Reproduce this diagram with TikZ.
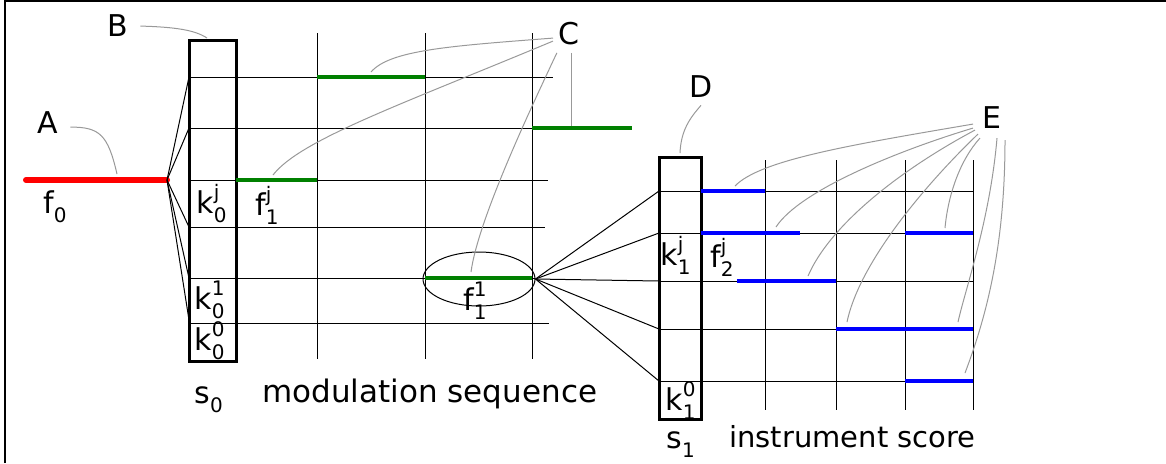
\documentclass[tikz,border=0pt]{standalone}
\usepackage{fontspec}
\setmainfont{DejaVu Sans}
\usetikzlibrary{shapes.geometric}
\newcommand\idx[3]{#1\rlap{\raisebox{7pt}{\fontsize{10}{10}\selectfont #3}}\raisebox{-4.5pt}{\fontsize{10}{10}\selectfont #2}}

\begin{document}
\begin{tikzpicture}[x=0.5pt, y=-0.5pt,
    grid/.style={black, line width=0.5pt},
    frame/.style={black, line width=1.5pt},
    seg/.style={line width=2pt},
    callout/.style={black!40, line width=0.5pt},
    lbl/.style={anchor=base west, inner sep=0pt, font=\fontsize{15}{18}\selectfont},
  ]
  \useasboundingbox (0,0) rectangle (1166,463);
  \draw[line width=1pt] (5,463) -- (5,1) -- (1166,1);

  % modulation sequence
  \foreach \x in {317,425,532} \draw[grid] (\x,33) -- (\x,359);
  \foreach \y/\e in {77/553,128/532,180/548,227/545,278/535,323/549}
    \draw[grid] (189,\y) -- (\e,\y);
  \draw[frame] (189,40) rectangle (236,361);
  \coordinate (a) at (167,180);
  \draw[red, line width=3pt, line cap=round] (26,180) -- (a);
  \foreach \y [count=\i] in {77,128,227,278,320} {
    \coordinate (r\i) at (189,\y);
    \draw[grid] (a) -- (r\i);
  }
  \draw[seg, green!50!black] (317,77) -- (425,77);
  \draw[seg, green!50!black] (532,128) -- (632,128);
  \draw[seg, green!50!black] (236,180) -- (317,180);
  \draw[seg, green!50!black] (425,278) -- (532,278);
  \node[draw, ellipse, line width=0.5pt, inner sep=0pt,
        minimum width=56pt, minimum height=27pt] (ell) at (479,279) {};

  % instrument score
  \foreach \x in {765,836,905,973} \draw[grid] (\x,160) -- (\x,410);
  \foreach \y [count=\i] in {191,233,281,329,381} {
    \coordinate (q\i) at (659,\y);
    \draw[grid] (ell.east) -- (q\i);
    \draw[grid] (q\i) -- (973,\y);
  }
  \draw[frame] (659,157) rectangle (701,419);
  \draw[seg, blue] (701,191) -- (765,191);
  \draw[seg, blue] (701,233) -- (800,233);
  \draw[seg, blue] (905,233) -- (973,233);
  \draw[seg, blue] (737,281) -- (836,281);
  \draw[seg, blue] (836,329) -- (973,329);
  \draw[seg, blue] (905,381) -- (973,381);

  % labels
  \node[lbl] (lA) at (37,133) {A};
  \node[lbl] (lB) at (107,36) {B};
  \node[lbl] (lC) at (558,44) {C};
  \node[lbl] (lD) at (689,97) {D};
  \node[lbl] (lE) at (982,128) {E};
  \node[lbl] (f0) at (43,213) {\idx{f}{0}{}};
  \node[lbl] (k0j) at (196,213) {\idx{k}{0}{j}};
  \node[lbl] (f1j) at (255,215) {\idx{f}{1}{j}};
  \node[lbl] (k01) at (194,309) {\idx{k}{0}{1}};
  \node[lbl] (k00) at (194,350) {\idx{k}{0}{0}};
  \node[lbl] (f11) at (463,310) {\idx{f}{1}{1}};
  \node[lbl] (k1j) at (660,265) {\idx{k}{1}{j}};
  \node[lbl] (f2j) at (710,267) {\idx{f}{2}{j}};
  \node[lbl] (k10) at (665,410) {\idx{k}{1}{0}};
  \node[lbl] (s0) at (194,403) {\idx{s}{0}{}};
  \node[lbl] (s1) at (666,448) {\idx{s}{1}{}};
  \node[lbl, font=\fontsize{15.5}{18}\selectfont] (mod) at (262,402) {modulation sequence};
  \node[lbl, font=\fontsize{14.5}{18}\selectfont] (ins) at (729,447) {instrument score};

  % callouts
  \draw[callout] ([shift={(12,5)}]lA.east) .. controls (100,127) and (108,135) .. (117,174);
  \draw[callout] ([shift={(12,1)}]lB.east) .. controls (175,27) and (195,30) .. (207,38);
  \draw[callout] ([shift={(-5,5)}]lC.west) .. controls (450,46) and (390,50) .. (371,72);
  \draw[callout] ([shift={(-5,8)}]lC.west) .. controls (400,105) and (300,140) .. (273,175);
  \draw[callout] ([shift={(-12,8)}]lC.south) .. controls (530,110) and (478,220) .. (471,272);
  \draw[callout] ([shift={(3,8)}]lC.south) -- ++(0,73);
  \draw[callout] ([shift={(0,8)}]lD.south) .. controls (690,118) and (681,130) .. (680,153);
  \foreach \sx/\sy/\ax/\ay/\bx/\by/\tx/\ty in {
      -9/7/850/145/760/160/735/186,
      -9/11/900/150/800/190/776/227,
      -7/13/900/170/830/225/808/276,
      -4/17/930/180/860/260/847/322,
      -2/21/960/160/948/195/945/228,
      15/21/990/220/965/290/958/322,
      23/23/1005/250/985/320/965/373}
    \draw[callout] ([shift={(\sx,\sy)}]lE.west) .. controls (\ax,\ay) and (\bx,\by) .. (\tx,\ty);
\end{tikzpicture}
\end{document}
